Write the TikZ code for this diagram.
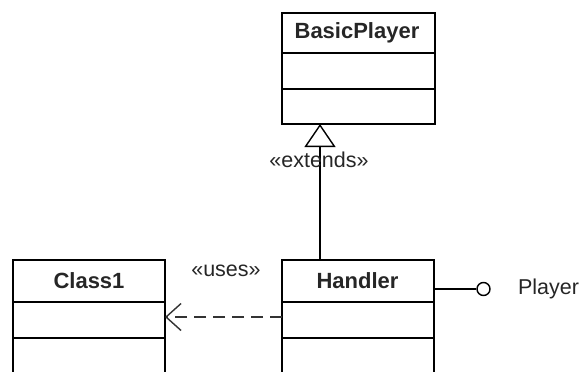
\documentclass[tikz,border=0pt]{standalone}
\usepackage{fontspec}
\setmainfont{Liberation Sans}
\usetikzlibrary{arrows.meta}
\begin{document}
\begin{tikzpicture}[x=1pt,y=-1pt,
  line width=1.4pt,
  umlclass/.style={draw, anchor=north west, inner sep=0pt, outer sep=0pt},
  classname/.style={font=\fontsize{22}{25}\selectfont\bfseries, text=black!85},
  plain/.style={font=\fontsize{21.5}{24}\selectfont, text=black!85},
  extends/.style={-{Triangle[open, length=23pt, width=31pt, line width=1.4pt]}},
  uses/.style={black!80, dash pattern=on 12pt off 7pt, -{Straight Barb[length=15pt, width=27pt, line width=1.4pt]}}
]
\useasboundingbox (0,0) rectangle (579,372);
\clip (0,0) rectangle (579,372);

% BasicPlayer class
\node[umlclass, minimum width=153pt, minimum height=111pt] (bp) at (282,13) {};
\node[classname] (bpname) at (357,33) {BasicPlayer};
\draw (bp.west |- 0,53) -- (bp.east |- 0,53);
\draw (bp.west |- 0,89) -- (bp.east |- 0,89);

% Handler class (lower part runs off the page)
\node[umlclass, minimum width=152pt, minimum height=130pt] (h) at (282,260) {};
\node[classname] (hname) at (357.5,281) {Handler};
\draw (h.west |- 0,302) -- (h.east |- 0,302);
\draw (h.west |- 0,338) -- (h.east |- 0,338);

% Class1 (lower part runs off the page)
\node[umlclass, minimum width=152pt, minimum height=130pt] (c1) at (13,260) {};
\node[classname] (c1name) at (89,281) {Class1};
\draw (c1.west |- 0,302) -- (c1.east |- 0,302);
\draw (c1.west |- 0,338) -- (c1.east |- 0,338);

% generalisation Handler -> BasicPlayer
\coordinate (gen) at (320,0);
\draw[extends] (gen |- h.north) -- (gen |- bp.south);
\node[plain] (ext) at (319,160) {«extends»};

% dependency Handler -> Class1
\coordinate (dep) at (0,317);
\draw[uses] (h.west |- dep) -- (c1.east |- dep);
\node[plain] (usesl) at (226,271) {«uses»};

% provided interface
\coordinate (lp) at (0,289);
\node[draw, circle, minimum size=13pt, inner sep=0pt, fill=white] (iface) at (483.5,289) {};
\draw (h.east |- lp) -- (iface.west);
\node[plain, anchor=west] (player) at (514,289) {Player};
\end{tikzpicture}
\end{document}
